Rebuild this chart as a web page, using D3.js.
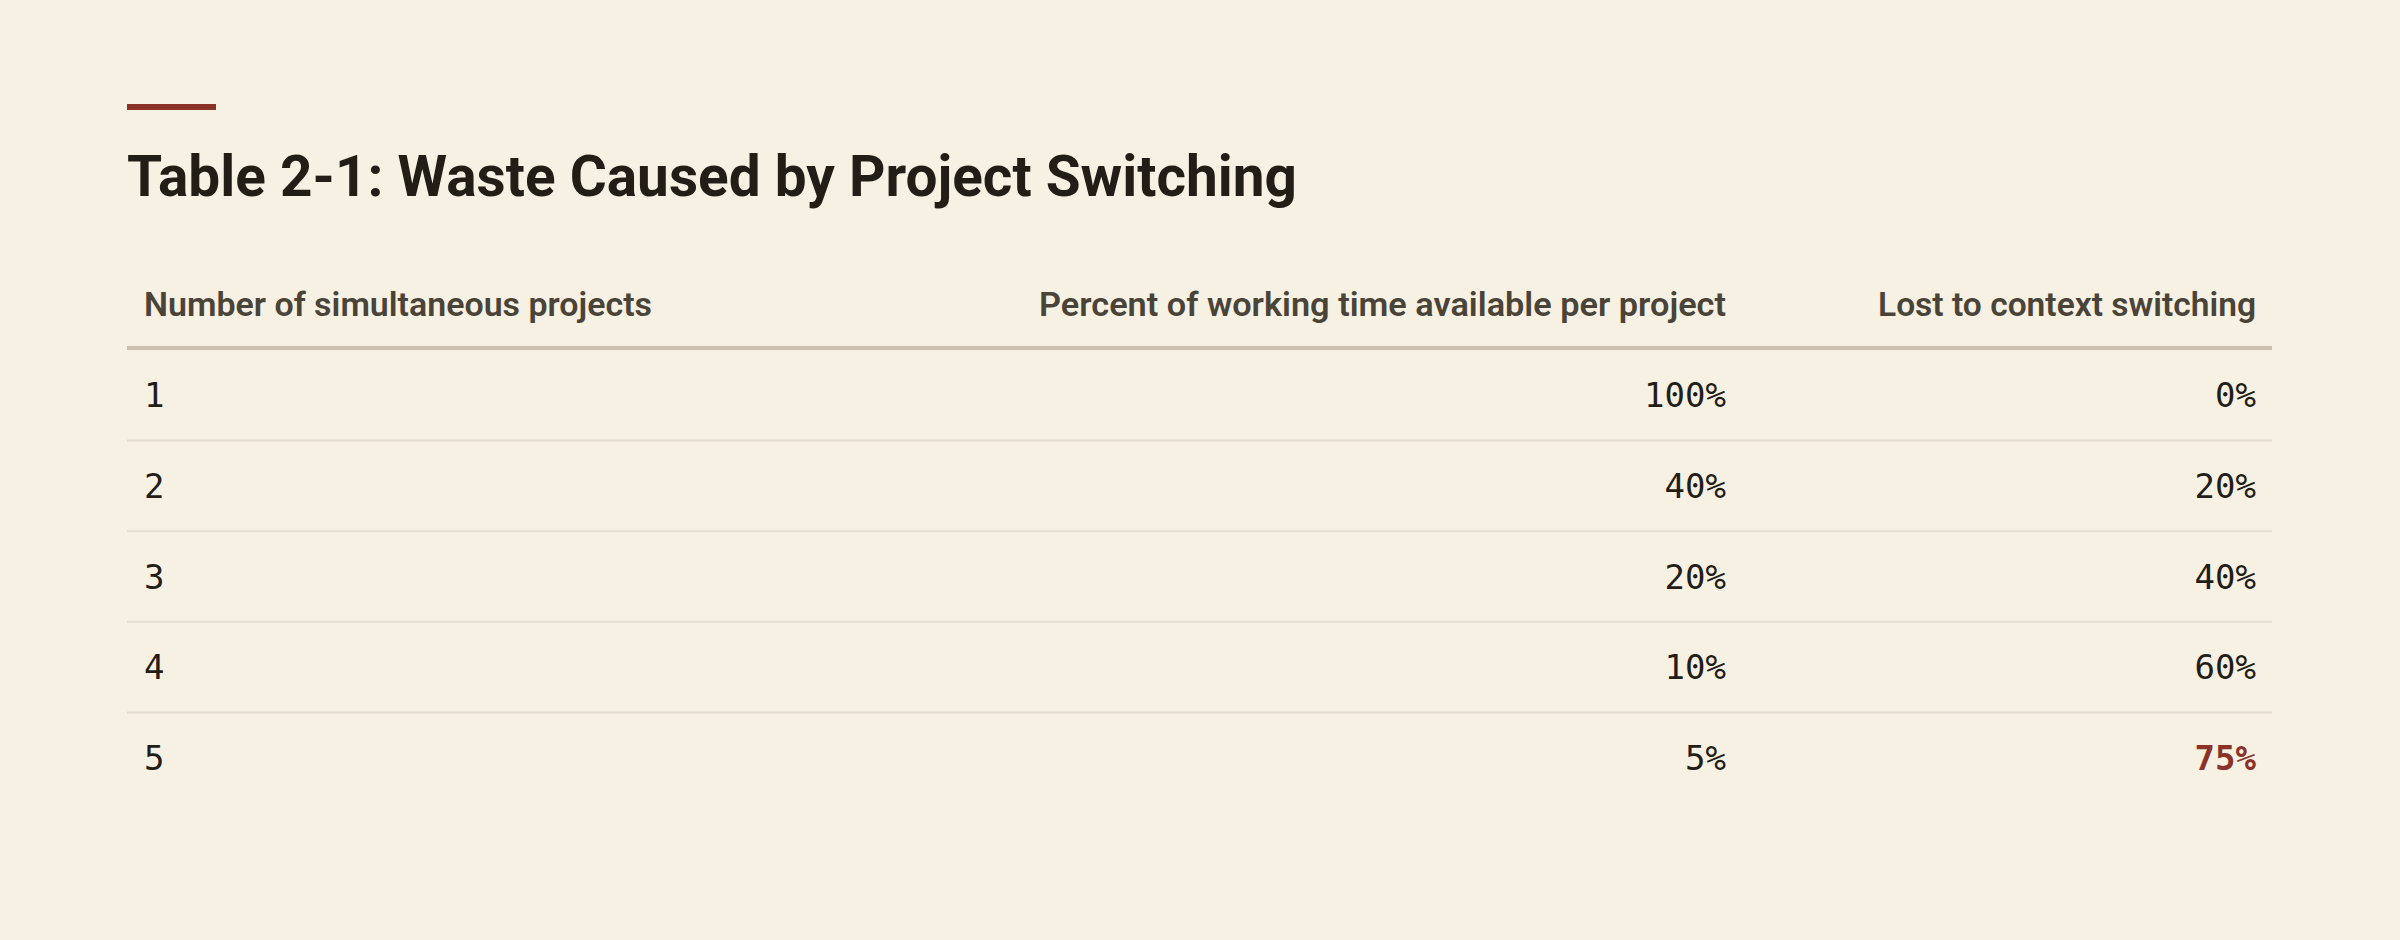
<!DOCTYPE html>
<html><head><meta charset="utf-8">
<script src="https://cdn.jsdelivr.net/npm/d3@7"></script>
<style>html,body{margin:0;background:#f7f1e4;}svg{display:block}</style>
</head><body>
<svg id="c" width="2400" height="940"></svg>
<script>
const title = "Table 2-1: Waste Caused by Project Switching";
const headers = ["Number of simultaneous projects", "Percent of working time available per project", "Lost to context switching"];
const projects = ["1","2","3","4","5"];
const available = [100, 40, 20, 10, 5];
const lost = [0, 20, 40, 60, 75];

const svg = d3.select("#c");
const L = 127, R = 2272;
svg.append("rect").attr("x",L).attr("y",104).attr("width",89).attr("height",6).attr("fill","#8b3328");
svg.append("text").attr("x",L).attr("y",196).text(title)
  .attr("font-family","Roboto, 'Noto Sans', sans-serif").attr("font-weight",700).attr("font-size",58)
  .attr("fill","#221d16").attr("textLength",1170).attr("lengthAdjust","spacingAndGlyphs");

const colX = [144, 1726, 2256];
const anchors = ["start","end","end"];
const hw = [508, 687, 378];
headers.forEach((h,i)=>{
  svg.append("text").attr("x",colX[i]).attr("y",316).text(h).attr("text-anchor",anchors[i])
    .attr("font-family","Roboto, 'Noto Sans', sans-serif").attr("font-weight",600).attr("font-size",33)
    .attr("fill","#4a4338").attr("textLength",hw[i]).attr("lengthAdjust","spacingAndGlyphs");
});
svg.append("line").attr("x1",L).attr("x2",R).attr("y1",348).attr("y2",348).attr("stroke","#cbc1ae").attr("stroke-width",4);

const y = d3.scaleBand().domain(projects).range([350, 803]);
const fmt = v => v + "%";
const rows = svg.selectAll("g.row").data(projects.map((p,i)=>({p,a:available[i],l:lost[i],i}))).join("g");
rows.filter(d=>d.i<projects.length-1).append("line").attr("x1",L).attr("x2",R)
  .attr("y1",d=>y(d.p)+y.bandwidth()).attr("y2",d=>y(d.p)+y.bandwidth()).attr("stroke","#e5dece").attr("stroke-width",2);
const mono = "'DejaVu Sans Mono', 'Liberation Mono', monospace";
const ty = d=>y(d.p)+y.bandwidth()/2+12;
rows.append("text").attr("x",colX[0]).attr("y",ty).text(d=>d.p).attr("font-family",mono).attr("font-size",34).attr("fill","#221d16");
rows.append("text").attr("x",colX[1]).attr("y",ty).attr("text-anchor","end").text(d=>fmt(d.a)).attr("font-family",mono).attr("font-size",34).attr("fill","#221d16");
rows.append("text").attr("x",colX[2]).attr("y",ty).attr("text-anchor","end").text(d=>fmt(d.l)).attr("font-family",mono).attr("font-size",34)
  .attr("fill",d=>d.i===projects.length-1?"#8b3328":"#221d16").attr("font-weight",d=>d.i===projects.length-1?700:400);
</script>
</body></html>
